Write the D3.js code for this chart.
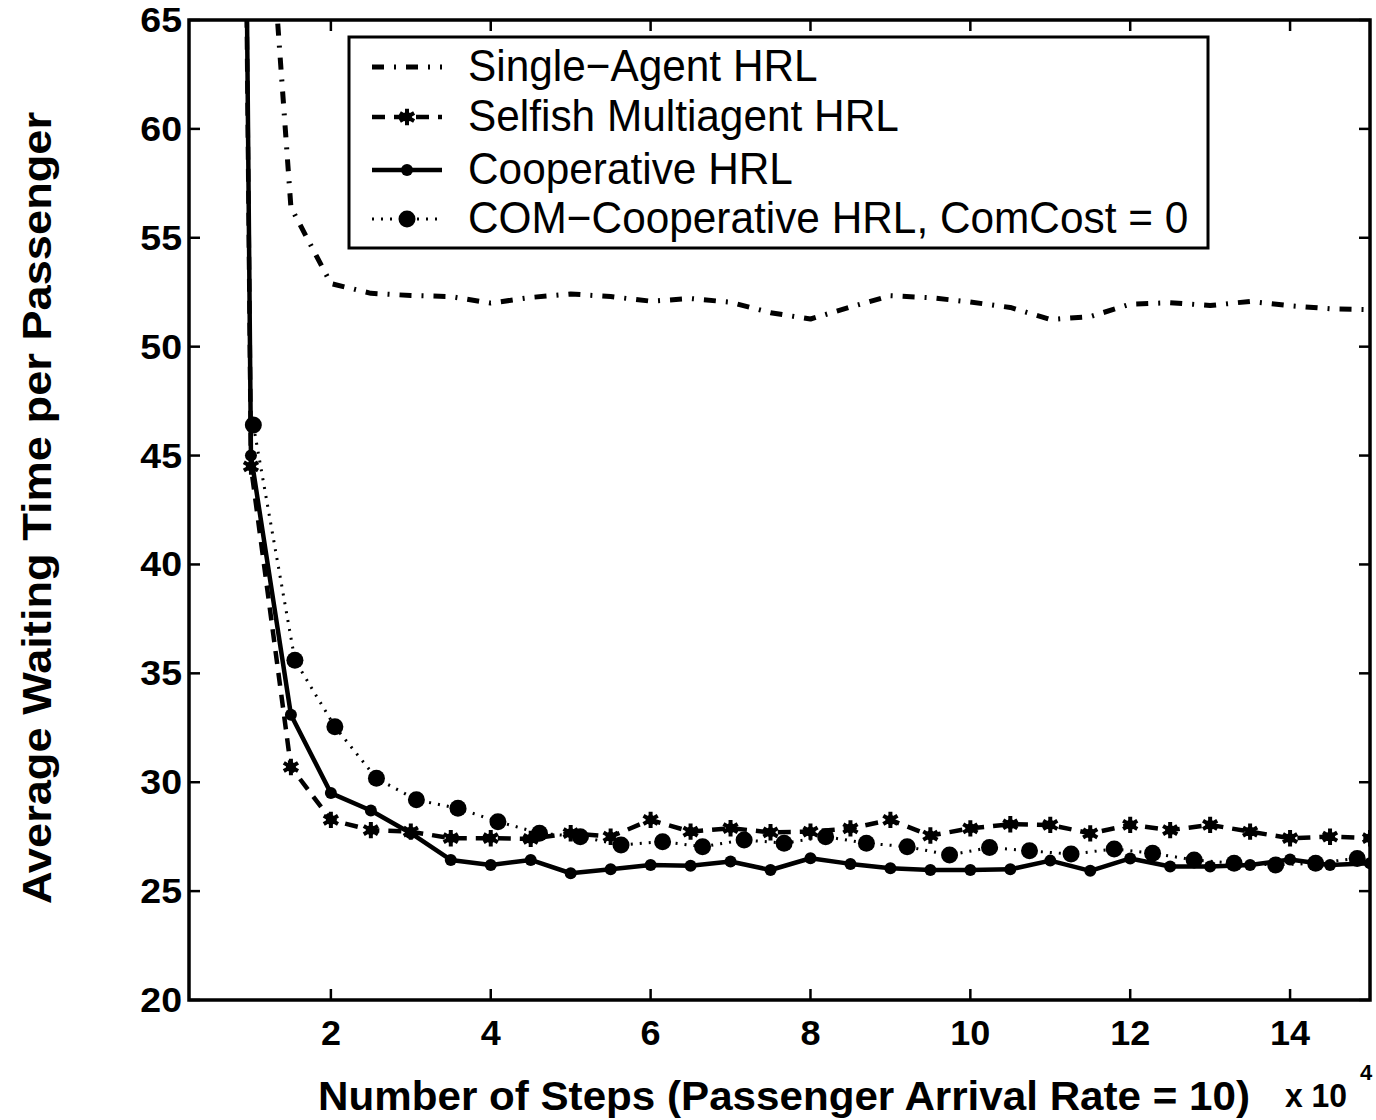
<!DOCTYPE html>
<html>
<head>
<meta charset="utf-8">
<script src="https://d3js.org/d3.v7.min.js"></script>
<style>
  body { margin: 0; background: #fff; }
  text { font-family: "Liberation Sans", Arial, sans-serif; fill: #000; }
</style>
</head>
<body>
<div id="container"></div>
<script>
// data (x in units of 10^4 steps)
var gridSteps = [0.5, 1, 1.5, 2, 2.5, 3, 3.5, 4, 4.5, 5, 5.5, 6, 6.5, 7, 7.5, 8, 8.5, 9, 9.5, 10,
                 10.5, 11, 11.5, 12, 12.5, 13, 13.5, 14, 14.5, 15];

var singleAgent = [160, 82, 56.4, 52.9, 52.45, 52.35, 52.3, 52.0, 52.26, 52.42, 52.3, 52.09, 52.21, 52.04, 51.56,
                   51.27, 51.82, 52.34, 52.25, 52.05, 51.8, 51.25, 51.38, 51.95, 52.02, 51.89, 52.08, 51.88, 51.74, 51.7];

var selfish = [240, 44.5, 30.7, 28.27, 27.8, 27.73, 27.43, 27.43, 27.4, 27.66, 27.5, 28.27, 27.73, 27.89, 27.7,
               27.73, 27.88, 28.27, 27.55, 27.88, 28.07, 28.04, 27.65, 28.04, 27.8, 28.04, 27.73, 27.43, 27.5, 27.43];

var cooperative = [250, 45.0, 33.1, 29.5, 28.7, 27.66, 26.43, 26.2, 26.43, 25.82, 26.0, 26.2, 26.16, 26.36, 25.97,
                   26.51, 26.25, 26.05, 25.97, 25.97, 26.0, 26.4, 25.93, 26.5, 26.13, 26.13, 26.2, 26.45, 26.2, 26.28];

// the COM run sits on a slightly wider step grid
var comSteps = [1.03, 1.55, 2.05, 2.57, 3.07, 3.59, 4.09, 4.61, 5.12, 5.63, 6.15, 6.65, 7.17, 7.67, 8.19,
                8.70, 9.21, 9.74, 10.24, 10.74, 11.26, 11.80, 12.28, 12.80, 13.30, 13.82, 14.32, 14.84];
var comCoop = [46.4, 35.6, 32.55, 30.18, 29.19, 28.8, 28.19, 27.66, 27.5, 27.12, 27.27, 27.04, 27.35, 27.2, 27.5,
               27.2, 27.04, 26.66, 27.0, 26.85, 26.7, 26.93, 26.74, 26.43, 26.28, 26.2, 26.28, 26.5];

var xTicks = [2, 4, 6, 8, 10, 12, 14];
var yTicks = [20, 25, 30, 35, 40, 45, 50, 55, 60, 65];

var legendLabels = ["Single\u2212Agent HRL", "Selfish Multiagent HRL", "Cooperative HRL",
                    "COM\u2212Cooperative HRL, ComCost = 0"];

width = 1376;
height = 1120;

window.onload = function() {
    var svg = d3.select("#container").append("svg")
        .attr("width", width)
        .attr("height", height);

    var left = 189, right = 1370, top = 20, bottom = 1000;

    var x = d3.scaleLinear().domain([0.225, 15]).range([left, right]);
    var y = d3.scaleLinear().domain([20, 65]).range([bottom, top]);

    svg.append("clipPath").attr("id", "plotclip")
        .append("rect")
        .attr("x", left).attr("y", top)
        .attr("width", right - left).attr("height", bottom - top);

    // series setup
    var series = [
        {name: legendLabels[0], xs: gridSteps, ys: singleAgent, dash: "12,10,2,10", width: 5, marker: null},
        {name: legendLabels[1], xs: gridSteps.slice(1), ys: selfish.slice(1), lineXs: gridSteps, lineYs: selfish, dash: "13,9", width: 4.5, marker: "star"},
        {name: legendLabels[2], xs: gridSteps.slice(1), ys: cooperative.slice(1), lineXs: gridSteps, lineYs: cooperative, dash: null, width: 4.5, marker: "dot"},
        {name: legendLabels[3], xs: comSteps, ys: comCoop, dash: "2,7", width: 3, marker: "big"}
    ];

    var line = d3.line()
        .x(function(d) { return x(d[0]); })
        .y(function(d) { return y(d[1]); });

    var plot = svg.append("g").attr("clip-path", "url(#plotclip)");

    series.forEach(function(s) {
        var lx = s.lineXs || s.xs, ly = s.lineYs || s.ys;
        var pts = lx.map(function(v, i) { return [v, ly[i]]; });
        plot.append("path")
            .attr("d", line(pts))
            .style("fill", "none")
            .style("stroke", "#000")
            .style("stroke-width", s.width)
            .style("stroke-dasharray", s.dash)
            .style("stroke-linejoin", "round");
    });

    // markers
    series.forEach(function(s) {
        if (!s.marker) return;
        var pts = s.xs.map(function(v, i) { return [v, s.ys[i]]; })
            .filter(function(d) { return d[1] <= 65; });
        drawMarkers(plot, pts.map(function(d) { return [x(d[0]), y(d[1])]; }), s.marker);
    });

    // axes box with inward ticks on all four sides
    var axes = svg.append("g");
    axes.append("rect")
        .attr("x", left).attr("y", top)
        .attr("width", right - left).attr("height", bottom - top)
        .style("fill", "none").style("stroke", "#000").style("stroke-width", 3.5);

    xTicks.forEach(function(t) {
        axes.append("line").attr("x1", x(t)).attr("x2", x(t)).attr("y1", bottom).attr("y2", bottom - 11)
            .style("stroke", "#000").style("stroke-width", 2.5);
        axes.append("line").attr("x1", x(t)).attr("x2", x(t)).attr("y1", top).attr("y2", top + 11)
            .style("stroke", "#000").style("stroke-width", 2.5);
        stretchedText(axes, x(t), 1045, String(t), 30, "bold", "middle", 1.2, 1.15);
    });
    yTicks.forEach(function(t) {
        axes.append("line").attr("x1", left).attr("x2", left + 11).attr("y1", y(t)).attr("y2", y(t))
            .style("stroke", "#000").style("stroke-width", 2.5);
        axes.append("line").attr("x1", right).attr("x2", right - 11).attr("y1", y(t)).attr("y2", y(t))
            .style("stroke", "#000").style("stroke-width", 2.5);
        stretchedText(axes, 182, y(t) + 12, String(t), 30, "bold", "end", 1.25, 1.15);
    });

    // axis titles
    stretchedText(svg, 784, 1110, "Number of Steps (Passenger Arrival Rate = 10)", 34, "bold", "middle", 1.24, 1.18);
    stretchedText(svg, 1285, 1107, "x 10", 29, "bold", "start", 1.1, 1.15);
    stretchedText(svg, 1360, 1080, "4", 20, "bold", "start", 1.1, 1.15);

    svg.append("text")
        .attr("transform", "translate(51,508) rotate(-90) scale(1.33,1.22)")
        .attr("text-anchor", "middle")
        .style("font-size", "34px")
        .style("font-weight", "bold")
        .text("Average Waiting Time per Passenger");

    // legend
    var lg = svg.append("g");
    lg.append("rect")
        .attr("x", 349).attr("y", 37).attr("width", 859).attr("height", 211)
        .style("fill", "#fff").style("stroke", "#000").style("stroke-width", 3);
    var rowY = [67, 117, 170, 219];
    series.forEach(function(s, i) {
        lg.append("line")
            .attr("x1", 372).attr("x2", 442).attr("y1", rowY[i]).attr("y2", rowY[i])
            .style("stroke", "#000")
            .style("stroke-width", s.width)
            .style("stroke-dasharray", s.dash);
        if (s.marker) drawMarkers(lg, [[407, rowY[i]]], s.marker);
        stretchedText(lg, 468, rowY[i] + 14, s.name, 39, "normal", "start", 1.086, 1.13);
    });
}


function stretchedText(g, px, py, str, size, weight, anchor, sx, sy) {
    return g.append("text")
        .attr("transform", "translate(" + px + "," + py + ") scale(" + sx + "," + sy + ")")
        .attr("text-anchor", anchor)
        .style("font-size", size + "px")
        .style("font-weight", weight)
        .text(str);
}


function drawMarkers(g, pts, kind) {
    pts.forEach(function(p) {
        if (kind == "dot") {
            g.append("circle").attr("cx", p[0]).attr("cy", p[1]).attr("r", 6).style("fill", "#000");
        } else if (kind == "big") {
            g.append("circle").attr("cx", p[0]).attr("cy", p[1]).attr("r", 8.5).style("fill", "#000");
        } else {
            // blurry asterisk
            g.append("path")
                .attr("transform", "translate(" + p[0] + "," + p[1] + ")")
                .attr("d", d3.symbol().type(d3.symbolAsterisk).size(190)())
                .style("fill", "none").style("stroke", "#000").style("stroke-width", 4);
            g.append("circle").attr("cx", p[0]).attr("cy", p[1]).attr("r", 5).style("fill", "#000");
        }
    });
}
</script>
</body>
</html>
